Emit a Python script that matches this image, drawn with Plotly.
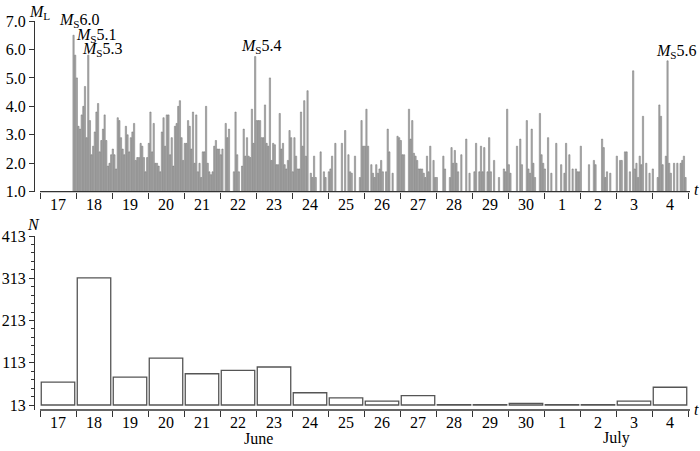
import plotly.graph_objects as go

W, H = 700, 451

# ---------------- data ----------------
day_labels = ["17", "18", "19", "20", "21", "22", "23", "24", "25", "26",
              "27", "28", "29", "30", "1", "2", "3", "4"]
# daily number of events (lower panel)
daily_counts = [67, 314, 79, 124, 87, 95, 103, 42, 30, 22, 35, 14, 14, 17, 14, 14, 22, 55]

# magnitude ML of events, each day split into 22 time bins (None = no event)
SLOTS_PER_DAY = 22
_ = None
mag_jun17 = [_] * 20 + [6.5, 5.8]
mag_jun18 = [5.0, 3.3, 3.2, 3.7, 4.0, 4.7, 2.9, 5.8, 3.5, 2.3, 2.6, 3.1, 3.8, 4.1, 2.4, 2.8, 3.2, 3.7, 2.8, 1.9, 2.0, 2.3]
mag_jun19 = [2.5, 2.3, 1.8, 3.6, 3.5, 2.9, 2.5, 2.3, 3.3, 3.0, 2.4, 2.9, 3.1, 3.4, 2.1, 2.2, 2.2, 2.7, 2.6, 2.2, 1.7, 2.2]
mag_jun20 = [2.7, 3.8, 2.4, 3.4, 2.0, 2.0, 1.9, 1.7, 3.1, 3.6, 2.6, 3.7, 3.7, 2.3, 2.9, 1.9, 3.3, 3.4, 4.0, 4.2, 2.9, 2.1]
mag_jun21 = [2.7, 2.7, 3.5, 3.3, 2.5, 3.8, 2.0, 3.7, 1.7, 2.0, 1.5, 2.4, 2.4, 4.0, 2.0, 1.7, 1.6, 1.7, 2.6, 2.8, 2.5, 2.5]
mag_jun22 = [2.3, 2.5, _, 3.4, 2.9, 3.2, _, _, 1.7, 3.8, 2.3, 1.7, _, 1.9, 3.2, 2.25, 2.9, 2.25, 2.2, 3.9, 2.7, 5.75]
mag_jun23 = [3.5, 3.5, 3.5, 2.9, 2.9, 4.05, 2.7, 2.6, 5.0, 2.1, 2.7, 2.65, 1.95, 1.95, 3.75, 2.5, 2.7, 1.95, 1.8, 2.1, 3.15, 2.9]
mag_jun24 = [1.7, 2.9, 2.25, 1.8, 1.8, 3.8, 2.6, 4.2, 2.25, 4.55, _, 1.65, 1.5, 2.25, 1.5, _, _, 2.4, _, 1.7, 1.5, _]
mag_jun25 = [1.7, 1.8, 2.25, _, 2.7, _, _, _, 2.7, _, 3.15, _, 2.3, 1.7, 1.65, _, 2.25, _, _, 1.5, 3.5, 2.6]
mag_jun26 = [2.6, 3.9, 2.6, _, 1.95, 1.65, 1.5, 1.95, 1.65, 1.8, 2.1, 1.7, _, 1.7, 3.2, 2.4, _, 1.65, _, _, 2.95, 2.9]
mag_jun27 = [2.8, 2.3, 2.3, _, _, 3.9, 2.85, 3.5, 2.35, 2.25, 2.1, 1.8, 1.8, 1.8, 1.65, 1.5, 2.25, 1.7, 2.6, _, 2.1, 1.5]
mag_jun28 = [1.5, _, _, _, 2.25, 1.8, _, _, 1.5, 2.55, 2.0, 2.45, 2.0, 1.7, _, 2.3, _, _, 2.85, _, 1.65, _]
mag_jun29 = [_, 1.7, 2.7, _, 1.7, 2.6, 1.7, 2.55, _, 1.7, 2.9, 1.7, _, 2.1, _, _, 1.5, _, _, 1.8, 1.7, 3.9]
mag_jun30 = [1.95, 1.65, _, _, _, 2.6, _, 2.85, 1.95, _, _, 3.5, 1.8, 1.65, 3.2, 2.0, 1.5, _, _, 3.75, 2.3, 2.0]
mag_jul01 = [1.8, _, 2.9, _, 1.65, _, _, 2.7, _, _, 1.95, _, 1.65, 2.7, _, 2.3, _, 1.8, _, 1.8, 1.7, 1.7]
mag_jul02 = [2.6, _, _, _, _, 1.95, _, _, 2.1, 1.95, _, _, _, 2.85, 2.55, 1.5, 1.7, _, 1.65, _, _, _]
mag_jul03 = [2.25, _, 2.1, 2.1, _, 2.4, 2.4, _, 1.7, _, 5.25, 1.8, 2.0, 1.5, 2.25, 1.95, 3.65, _, 2.0, _, 1.65, _]
mag_jul04 = [1.8, _, _, 1.5, 4.05, 3.65, 1.95, _, 2.25, 5.6, 2.0, 1.65, _, 2.0, _, 2.0, _, 2.0, 2.1, 2.25, 1.5, _]

mag_days = [mag_jun17, mag_jun18, mag_jun19, mag_jun20, mag_jun21, mag_jun22,
            mag_jun23, mag_jun24, mag_jun25, mag_jun26, mag_jun27, mag_jun28,
            mag_jun29, mag_jun30, mag_jul01, mag_jul02, mag_jul03, mag_jul04]

ml_ticks = [1, 2, 3, 4, 5, 6, 7]
n_ticks = [13, 113, 213, 313, 413]

# ---------------- build ----------------
event_t, event_m = [], []
for d, slots in enumerate(mag_days):
    for i, m in enumerate(slots):
        if m is not None:
            event_t.append(d + (i + 0.5) / SLOTS_PER_DAY)
            event_m.append(m)

n_days = len(day_labels)
centers = [k + 0.5 for k in range(n_days)]


def px_x(p):
    return p / W


def px_y(p):
    return 1 - p / H


FONT = "Liberation Serif"
AX = "#333333"

fig = go.Figure()
fig.add_trace(go.Bar(x=event_t, y=event_m, width=0.78 / SLOTS_PER_DAY,
                     marker=dict(color="#b3b3b3", line=dict(color="#6e6e6e", width=0.5)),
                     xaxis="x", yaxis="y", showlegend=False, hoverinfo="skip"))
fig.add_trace(go.Bar(x=centers, y=[n - 13 for n in daily_counts], base=13, width=0.93,
                     marker=dict(color="white", line=dict(color="#555555", width=1.3)),
                     xaxis="x2", yaxis="y2", showlegend=False, hoverinfo="skip"))

x_left_px, x0_px, day_px, x_right_px = 35, 40, 36.0, 690
xrange_ = [(x_left_px - x0_px) / day_px, (x_right_px - x0_px) / day_px]

xcommon = dict(domain=[px_x(x_left_px), px_x(x_right_px)], range=xrange_,
               tickmode="array", tickvals=centers, ticktext=day_labels,
               ticks="outside", ticklen=0, tickcolor="rgba(0,0,0,0)",
               ticklabelstandoff=-2,
               minor=dict(tickmode="array", tickvals=list(range(n_days + 1)),
                          ticks="outside", ticklen=6, tickwidth=1.2, tickcolor=AX),
               showline=False, showgrid=False, zeroline=False, automargin=False,
               tickfont=dict(family=FONT, size=16, color="black"), fixedrange=True)

ycommon = dict(ticks="outside", ticklen=5, tickwidth=1.2, tickcolor=AX,
               showline=True, linecolor=AX, linewidth=1.2, showgrid=False, zeroline=False,
               automargin=False, tickfont=dict(family=FONT, size=16, color="black"),
               fixedrange=True)

fig.update_layout(
    template="none",
    width=W, height=H, autosize=False,
    margin=dict(l=0, r=0, t=0, b=0, pad=0),
    paper_bgcolor="white", plot_bgcolor="white",
    barmode="overlay",
    xaxis=dict(anchor="y", **xcommon),
    xaxis2=dict(anchor="y2", **xcommon),
    yaxis=dict(anchor="x", domain=[px_y(191.7), px_y(21)], range=[1, 7],
               tickmode="array", tickvals=ml_ticks, ticktext=[f"{v:.1f}" for v in ml_ticks],
               **ycommon),
    yaxis2=dict(anchor="x2", domain=[px_y(410), px_y(236)],
                range=[13 - 5 / 0.4225, 413],
                tickmode="array", tickvals=n_ticks, ticktext=[str(v) for v in n_ticks],
                minor=dict(tickmode="array",
                           tickvals=[v for v in range(13, 414, 20) if v not in n_ticks],
                           ticks="outside", ticklen=3, tickwidth=1, tickcolor=AX),
                **ycommon),
)

# x axis lines (start at the first day boundary, slightly apart from the y axis)
for xr, yr in (("x", "y domain"), ("x2", "y2 domain")):
    fig.add_shape(type="line", xref=xr, yref=yr, x0=0, x1=xrange_[1], y0=0, y1=0,
                  line=dict(color=AX, width=1.3))


def add_text(text, xp, yp, size=16, xanchor="center"):
    fig.add_annotation(text=text, x=px_x(xp), y=px_y(yp), xref="paper", yref="paper",
                       showarrow=False, xanchor=xanchor, yanchor="middle",
                       font=dict(family=FONT, size=size, color="black"))


add_text("<i>M</i><sub>L</sub>", 39, 12)
add_text("<i>N</i>", 33, 224)
add_text("<i>t</i>", 696, 189)
add_text("<i>t</i>", 696, 409)
add_text("June", 258, 438)
add_text("July", 616, 438)
add_text("<i>M</i><sub>S</sub>6.0", 79, 21)
add_text("<i>M</i><sub>S</sub>5.1", 96, 35)
add_text("<i>M</i><sub>S</sub>5.3", 102, 49)
add_text("<i>M</i><sub>S</sub>5.4", 261, 46)
add_text("<i>M</i><sub>S</sub>5.6", 676, 52)

# the page's default body margin would shift the figure; remove it
fig.write_html("out.html", config={"displayModeBar": False},
               post_script="document.body.style.margin='0px';document.body.style.overflow='hidden';")
